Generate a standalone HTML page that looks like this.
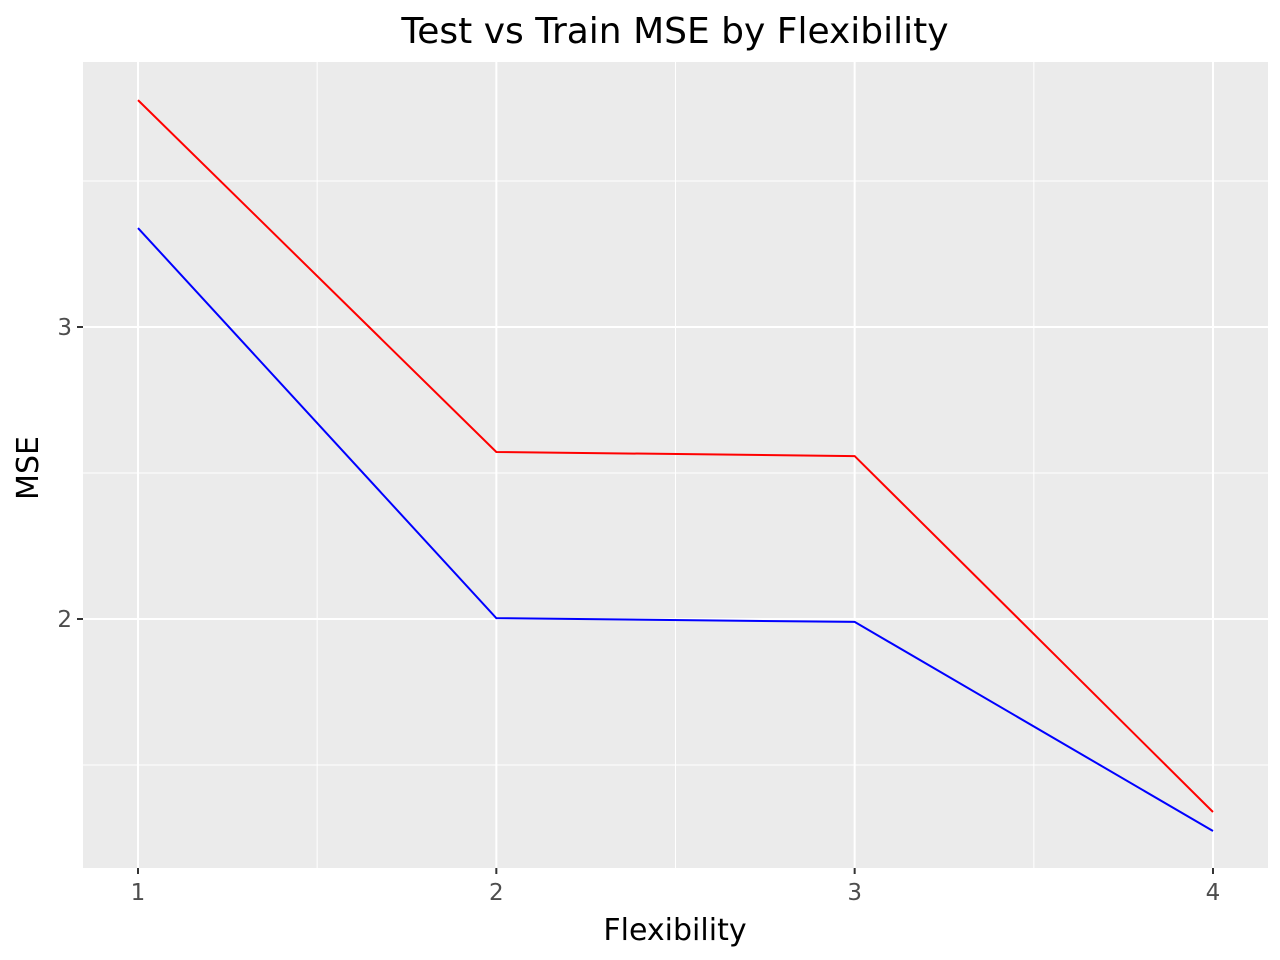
<!DOCTYPE html>
<html><head><meta charset="utf-8"><style>
body{margin:0;background:#fff;}
svg{display:block;font-family:"DejaVu Sans","Liberation Sans",sans-serif;}
</style></head><body>
<svg id="chart" width="1280" height="960">
<text x="675" y="43" text-anchor="middle" font-size="36" fill="#000">Test vs Train MSE by Flexibility</text>
<rect x="83" y="62" width="1185" height="806" fill="#ebebeb"/>
<g id="grid"></g>
<g id="series"></g>
<g id="axes"></g>
<text x="675" y="940" text-anchor="middle" font-size="30" fill="#000">Flexibility</text>
<text transform="translate(38,468) rotate(-90)" text-anchor="middle" font-size="30" fill="#000">MSE</text>
</svg>
<script>
const categories=[1,2,3,4];
const testMSE=[3.777,2.572,2.558,1.339];
const trainMSE=[3.339,2.003,1.990,1.274];
const xTicks=[1,2,3,4];
const xMinor=[1.5,2.5,3.5];
const yTicks=[2,3];
const yMinor=[1.5,2.5,3.5];
const NS="http://www.w3.org/2000/svg";
function sx(v){return 138+(v-1)*358.33;}
function sy(v){return 327-(v-3)*292;}
function mk(tag,attrs,parent){const e=document.createElementNS(NS,tag);for(const k in attrs)e.setAttribute(k,attrs[k]);parent.appendChild(e);return e;}
const grid=document.getElementById('grid'),axes=document.getElementById('axes'),series=document.getElementById('series');
xMinor.forEach(v=>{const l=mk('line',{x1:sx(v),x2:sx(v),y1:62,y2:868,stroke:'#fff','stroke-width':1},grid);

});
yMinor.forEach(v=>{const l=mk('line',{x1:83,x2:1268,y1:sy(v),y2:sy(v),stroke:'#fff','stroke-width':1},grid);

});
xTicks.forEach(v=>{const l=mk('line',{x1:sx(v),x2:sx(v),y1:62,y2:868,stroke:'#fff','stroke-width':2},grid);


const t=mk('line',{x1:sx(v),x2:sx(v),y1:868,y2:874,stroke:'#333','stroke-width':2},axes);


const tx=mk('text',{x:sx(v),y:900,'text-anchor':'middle','font-size':23,fill:'#4d4d4d'},axes);tx.textContent=v;

});
yTicks.forEach(v=>{const l=mk('line',{x1:83,x2:1268,y1:sy(v),y2:sy(v),stroke:'#fff','stroke-width':2},grid);


const t=mk('line',{x1:77,x2:83,y1:sy(v),y2:sy(v),stroke:'#333','stroke-width':2},axes);


const tx=mk('text',{x:72,y:sy(v)+8,'text-anchor':'end','font-size':23,fill:'#4d4d4d'},axes);tx.textContent=v;

});
function line(vals,color,name){const p=mk('polyline',{points:categories.map((c,i)=>sx(c)+','+sy(vals[i])).join(' '),fill:'none',stroke:color,'stroke-width':2},series);

}
line(testMSE,'#ff0000','test-mse-line');
line(trainMSE,'#0000ff','train-mse-line');
</script>
</body></html>
